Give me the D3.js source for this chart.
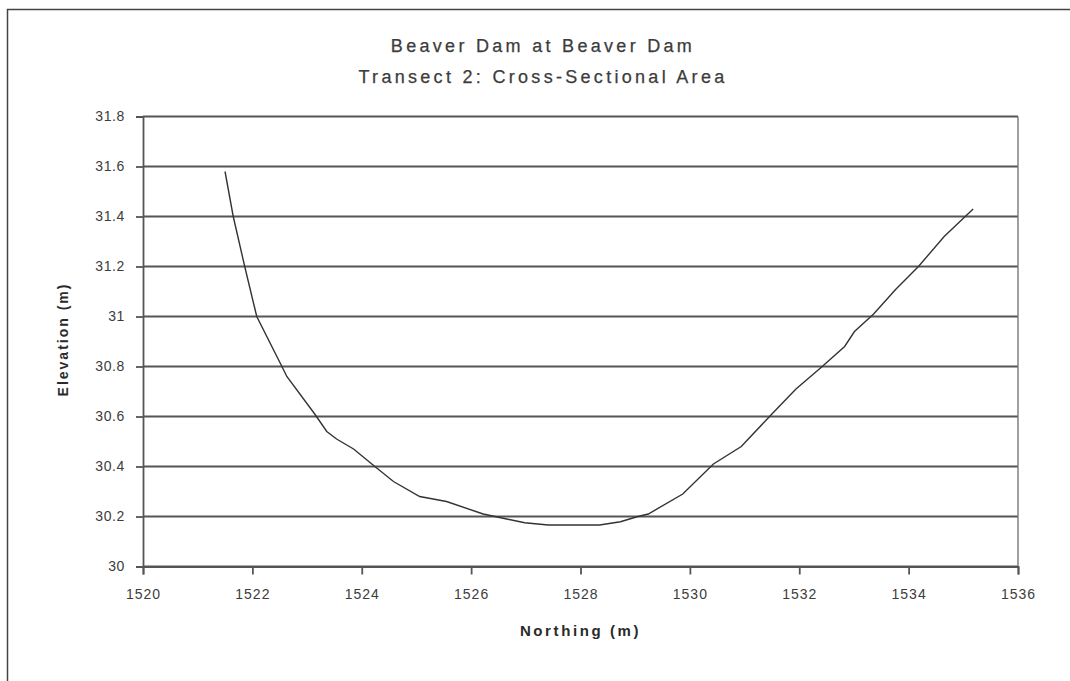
<!DOCTYPE html>
<html>
<head>
<meta charset="utf-8">
<script src="https://cdn.jsdelivr.net/npm/d3@7"></script>
<style>
  html, body { margin: 0; padding: 0; background: #ffffff; }
  svg { display: block; font-family: "Liberation Sans", Arial, sans-serif; }
</style>
</head>
<body>
<svg id="chart" width="1070" height="681"></svg>
<script>
// ---- data ----
const northing = [1521.5, 1521.65, 1521.86, 1522.08, 1522.54, 1522.63, 1523.14, 1523.36, 1523.54,
  1523.85, 1524.24, 1524.58, 1525.06, 1525.55, 1526.22, 1526.65, 1526.98, 1527.41, 1528.35,
  1528.73, 1529.05, 1529.24, 1529.87, 1530.43, 1530.94, 1531.5, 1531.94, 1532.42, 1532.83,
  1533.01, 1533.36, 1533.77, 1534.18, 1534.65, 1535.18];
const elevation = [31.58, 31.40, 31.20, 31.00, 30.80, 30.76, 30.61, 30.54, 30.51,
  30.47, 30.40, 30.34, 30.28, 30.26, 30.21, 30.19, 30.175, 30.166, 30.166,
  30.179, 30.20, 30.21, 30.29, 30.41, 30.48, 30.61, 30.71, 30.80, 30.88,
  30.94, 31.01, 31.11, 31.20, 31.32, 31.43];
const xTicks = [1520, 1522, 1524, 1526, 1528, 1530, 1532, 1534, 1536];
const xTickLabels = ["1520", "1522", "1524", "1526", "1528", "1530", "1532", "1534", "1536"];
const yTicks = [30, 30.2, 30.4, 30.6, 30.8, 31, 31.2, 31.4, 31.6, 31.8];
const yTickLabels = ["30", "30.2", "30.4", "30.6", "30.8", "31", "31.2", "31.4", "31.6", "31.8"];
const titleLines = ["Beaver Dam at Beaver Dam", "Transect 2: Cross-Sectional Area"];
const xTitle = "Northing (m)";
const yTitle = "Elevation (m)";

// ---- layout ----
const svg = d3.select("#chart");
const pLeft = 143, pRight = 1018, pTop = 116.5, pBottom = 566.5;
const x = d3.scaleLinear().domain([1520, 1536]).range([pLeft, pRight]);
const y = d3.scaleLinear().domain([30, 31.8]).range([pBottom, pTop]);
const gridColor = "#555555";
const textColor = "#3c3c3c";

// outer chart frame
svg.append("rect").attr("x", 7.5).attr("y", 9.5).attr("width", 1080).attr("height", 700)
  .attr("fill", "#fff").attr("stroke", "#444").attr("stroke-width", 1.5);

// titles
svg.selectAll("text.title").data(titleLines).join("text")
  .attr("class", "title")
  .attr("x", 543).attr("y", (d, i) => 52 + i * 31)
  .attr("text-anchor", "middle")
  .attr("font-size", 18).attr("letter-spacing", 3.3)
  .attr("fill", textColor).attr("stroke", textColor).attr("stroke-width", 0.25)
  .text(d => d);

// horizontal gridlines
svg.append("g").selectAll("line").data(yTicks).join("line")
  .attr("x1", pLeft).attr("x2", pRight)
  .attr("y1", d => y(d)).attr("y2", d => y(d))
  .attr("stroke", gridColor).attr("stroke-width", 1.8);

// right border of plot area
svg.append("line").attr("x1", pRight).attr("x2", pRight).attr("y1", pTop).attr("y2", pBottom)
  .attr("stroke", "#777").attr("stroke-width", 1.4);

// y axis
const yAxis = d3.axisLeft(y).tickValues(yTicks).tickSize(7).tickPadding(11)
  .tickFormat((d, i) => yTickLabels[i]);
const gy = svg.append("g").attr("transform", `translate(${pLeft},0)`).call(yAxis);
gy.select(".domain").attr("stroke", gridColor).attr("stroke-width", 1.8);
gy.selectAll(".tick line").attr("stroke", gridColor).attr("stroke-width", 1.8);
gy.selectAll(".tick text").attr("font-size", 14).attr("fill", textColor)
  .attr("font-family", "'Liberation Sans', Arial, sans-serif").attr("letter-spacing", 0.6);

// x axis
const xAxis = d3.axisBottom(x).tickValues(xTicks).tickSize(8).tickPadding(15)
  .tickFormat((d, i) => xTickLabels[i]);
const gx = svg.append("g").attr("transform", `translate(0,${pBottom})`).call(xAxis);
gx.select(".domain").attr("stroke", gridColor).attr("stroke-width", 1.8);
gx.selectAll(".tick line").attr("stroke", gridColor).attr("stroke-width", 1.8);
gx.selectAll(".tick text").attr("font-size", 14).attr("fill", textColor)
  .attr("font-family", "'Liberation Sans', Arial, sans-serif").attr("letter-spacing", 1);

// axis titles
svg.append("text").attr("x", (pLeft + pRight) / 2).attr("y", 636)
  .attr("text-anchor", "middle").attr("font-size", 15).attr("font-weight", "bold")
  .attr("letter-spacing", 2.6).attr("fill", "#2a2a2a").text(xTitle);
svg.append("text").attr("transform", `translate(68,${(pTop + pBottom) / 2 - 2}) rotate(-90)`)
  .attr("text-anchor", "middle").attr("font-size", 14).attr("font-weight", "bold")
  .attr("letter-spacing", 2).attr("fill", "#2a2a2a").text(yTitle);

// data line
const pts = northing.map((n, i) => [n, elevation[i]]);
svg.append("path").datum(pts)
  .attr("fill", "none").attr("stroke", "#333").attr("stroke-width", 1.4)
  .attr("d", d3.line().x(d => x(d[0])).y(d => y(d[1])));
</script>
</body>
</html>
